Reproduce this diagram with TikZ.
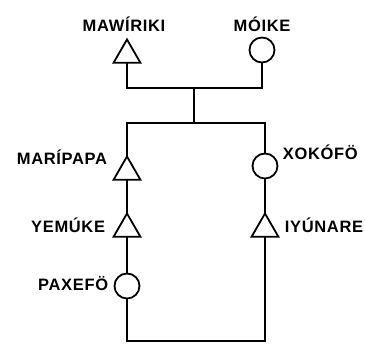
\documentclass[tikz,border=0pt]{standalone}
\usepackage{fontspec}
\newfontfamily\labfont{Liberation Sans}[LetterSpace=4]
\usetikzlibrary{shapes.geometric}
\begin{document}
\begin{tikzpicture}[x=1pt,y=-1pt,
  line width=1.8pt, line join=miter,
  male/.style={draw, regular polygon, regular polygon sides=3, minimum size=31pt, inner sep=0pt, outer sep=0pt},
  female/.style={draw, circle, minimum size=25pt, inner sep=0pt, outer sep=0pt},
  lab/.style={font=\labfont\bfseries\fontsize{16.5}{16.5}\selectfont, inner sep=0pt}]
\useasboundingbox (0,0) rectangle (365,347);
% people
\node[male] (maw) at (127,55) {};
\node[female] (moi) at (262,50) {};
\node[male] (mar) at (127,172) {};
\node[female] (xok) at (265,166) {};
\node[male] (yem) at (127,229) {};
\node[male] (iyu) at (265,229) {};
\node[female] (pax) at (127,286) {};
% labels
\node[lab, anchor=base] (lmaw) at (124,32) {MAWÍRIKI};
\node[lab, anchor=base] (lmoi) at (262,32) {MÓIKE};
\node[lab, anchor=base east] (lmar) at (108,165) {MARÍPAPA};
\node[lab, anchor=base west] (lxok) at (282,160) {XOKÓFÖ};
\node[lab, anchor=base east] (lyem) at (106,233) {YEMÚKE};
\node[lab, anchor=base west] (liyu) at (284,233) {IYÚNARE};
\node[lab, anchor=base east] (lpax) at (109,291) {PAXEFÖ};
% junctions
\coordinate (top) at (194,88);
\coordinate (mid) at (194,123);
\coordinate (bot) at (196,341);
% connectors
\draw (maw.side 2) |- (top) -| (moi.south);
\draw (top) -- (mid);
\draw (mar.corner 1) |- (mid) -| (xok.north);
\draw (mar.side 2) -- (yem.corner 1);
\draw (xok.south) -- (iyu.corner 1);
\draw (yem.side 2) -- (pax.north);
\draw (pax.south) |- (bot) -| (iyu.side 2);
\end{tikzpicture}
\end{document}
